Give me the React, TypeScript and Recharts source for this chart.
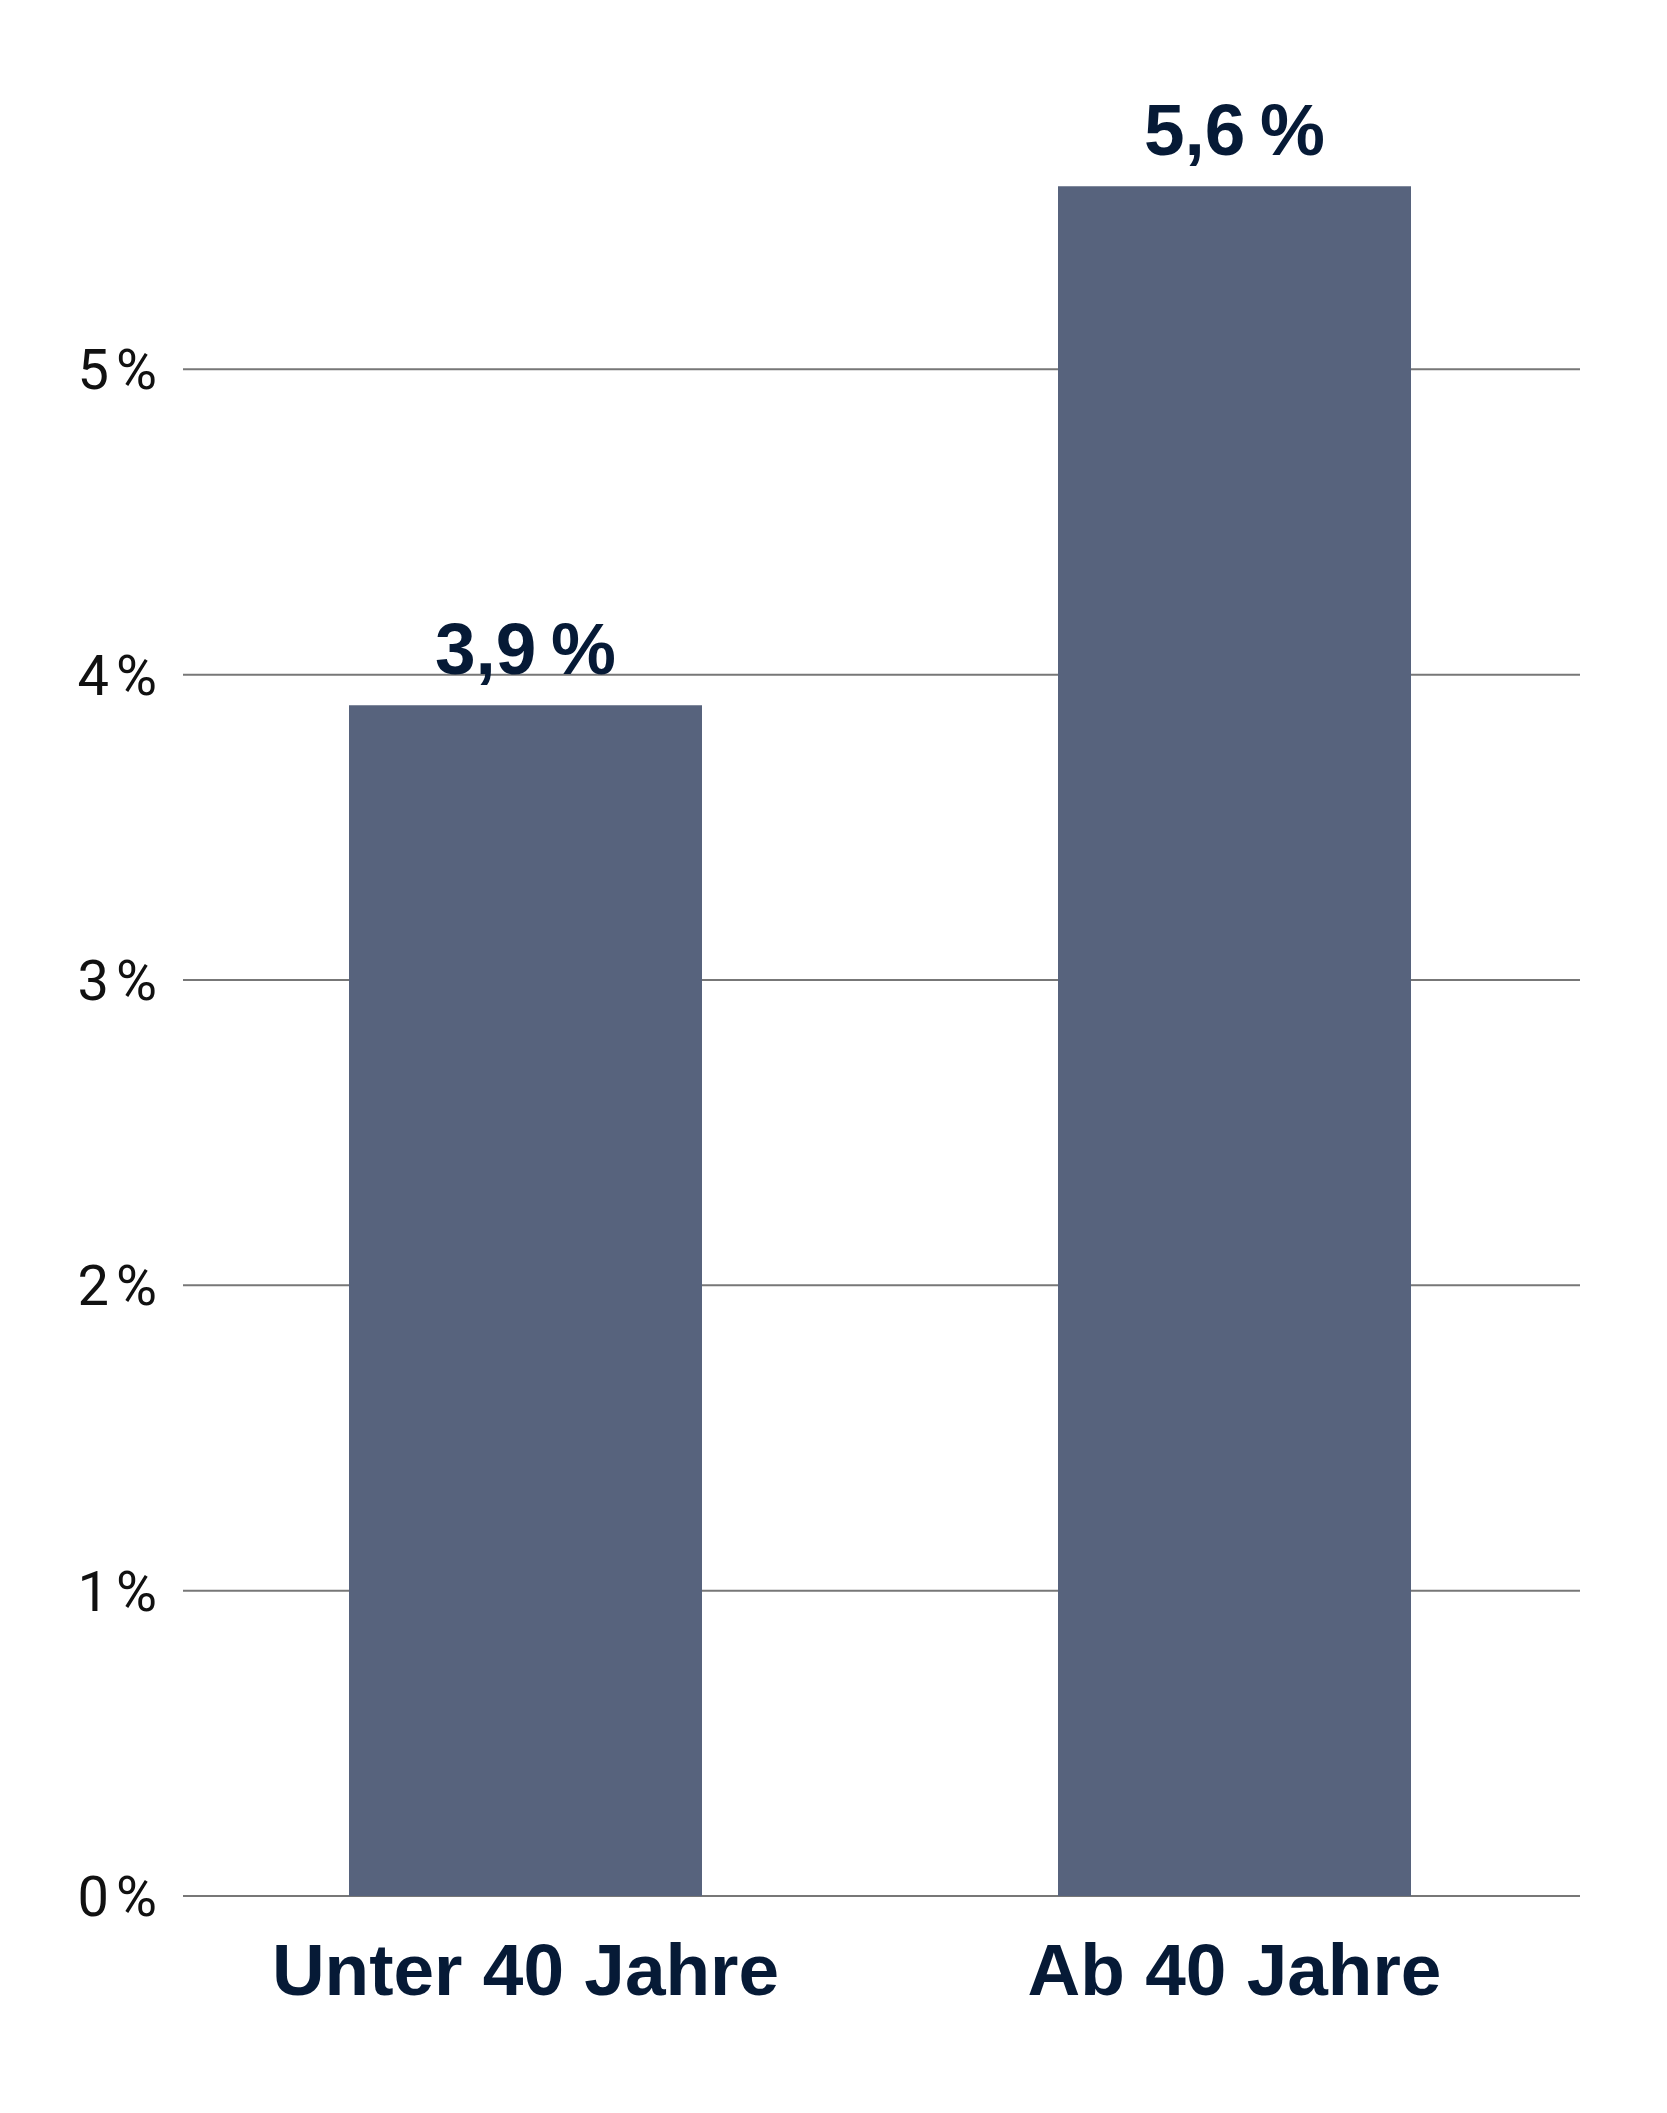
import React from 'react';
import { BarChart, Bar, XAxis, YAxis, CartesianGrid, LabelList } from 'recharts';

const categories = ['Unter 40 Jahre', 'Ab 40 Jahre'];
const shares = [3.9, 5.6];
const yTicks = [0, 1, 2, 3, 4, 5];

const data = categories.map((name, i) => ({ name, share: shares[i] }));

const NAVY = '#061a36';
const BAR = '#57637d';
const FONT = '"Liberation Sans", Arial, sans-serif';

const fmtPct = (v: number) => `${String(v).replace('.', ',')}\u202F%`;

export default function App() {
  return (
    <div style={{ width: 1667, height: 2113, background: '#fff' }}>
      <style>{`body { margin: 0; }`}</style>
      <BarChart
        width={1667}
        height={2113}
        data={data}
        margin={{ top: 64, right: 87, left: 0, bottom: 0 }}
        barSize={353}
      >
        <CartesianGrid vertical={false} horizontalValues={yTicks} stroke="#777" strokeWidth={2} />
        <XAxis
          dataKey="name"
          axisLine={false}
          tickLine={false}
          height={217}
          tickMargin={41}
          interval={0}
          padding={{ left: -12, right: -9 }}
          tick={{ fill: NAVY, fontSize: 73, fontWeight: 700, fontFamily: FONT }}
        />
        <YAxis
          domain={[0, 6]}
          ticks={yTicks}
          width={183}
          axisLine={false}
          tickLine={false}
          tickMargin={20}
          tickFormatter={(v: number) => `${v}\u202F%`}
          tick={{ fill: '#111', fontSize: 56, fontWeight: 400, fontFamily: 'Roboto, sans-serif' }}
        />
        <Bar dataKey="share" fill={BAR} isAnimationActive={false}>
          <LabelList
            dataKey="share"
            position="top"
            offset={31}
            formatter={(v: number) => fmtPct(v)}
            style={{ fill: NAVY, fontSize: 73, fontWeight: 700, fontFamily: FONT }}
          />
        </Bar>
      </BarChart>
    </div>
  );
}
